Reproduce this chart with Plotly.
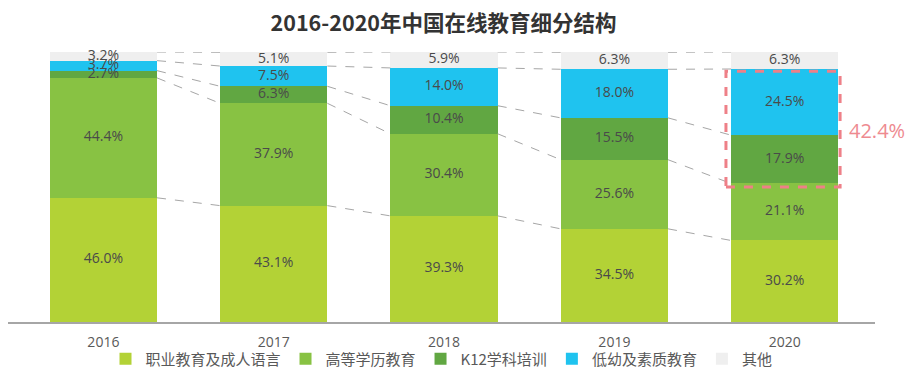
import plotly.graph_objects as go

years = ["2016", "2017", "2018", "2019", "2020"]
series_names = ["职业教育及成人语言", "高等学历教育", "K12学科培训", "低幼及素质教育", "其他"]
vocational = [46.0, 43.1, 39.3, 34.5, 30.2]
higher_edu = [44.4, 37.9, 30.4, 25.6, 21.1]
k12 = [2.7, 6.3, 10.4, 15.5, 17.9]
preschool = [3.7, 7.5, 14.0, 18.0, 24.5]
others = [3.2, 5.1, 5.9, 6.3, 6.3]
highlight_value = "42.4%"

series = [vocational, higher_edu, k12, preschool, others]
colors = ["#B3D236", "#88C243", "#61A742", "#1FC3EF", "#EFEFEF"]

bar_w = 0.63
xs = list(range(len(years)))
label_color = "#4A4A4A"

fig = go.Figure()

# stacked bars
for name, vals, col in zip(series_names, series, colors):
    fig.add_trace(go.Bar(
        x=xs, y=vals, name=name, width=bar_w,
        marker=dict(color=col, line=dict(width=0)),
        hoverinfo="skip",
    ))

# cumulative boundaries
cum = []
running = [0.0] * len(years)
for vals in series:
    running = [r + v for r, v in zip(running, vals)]
    cum.append(list(running))

# dashed connectors between bars at each boundary
for level in cum:
    for i in range(len(years) - 1):
        fig.add_trace(go.Scatter(
            x=[xs[i] + bar_w / 2, xs[i + 1] - bar_w / 2],
            y=[level[i], level[i + 1]],
            mode="lines",
            line=dict(color="#A6A6A6", width=1, dash="dash"),
            showlegend=False, hoverinfo="skip",
        ))

# segment value labels
lx, ly, lt = [], [], []
prev = [0.0] * len(years)
for vals, top in zip(series, cum):
    for i in range(len(years)):
        lx.append(xs[i])
        ly.append((prev[i] + top[i]) / 2)
        lt.append(f"{vals[i]:.1f}%")
    prev = top
fig.add_trace(go.Scatter(
    x=lx, y=ly, text=lt, mode="text",
    textfont=dict(size=14, color=label_color, family="Open Sans, Noto Sans CJK SC"),
    showlegend=False, hoverinfo="skip", cliponaxis=False,
))

# highlight rectangle around K12 + preschool in 2020
last = len(years) - 1
fig.add_shape(
    type="rect", xref="x", yref="y",
    x0=xs[last] - bar_w / 2 - 0.03, x1=xs[last] + bar_w / 2 + 0.01,
    y0=cum[1][last] - 1.3, y1=cum[3][last] - 0.8,
    line=dict(color="#EE8088", width=3, dash="dash"),
    fillcolor="rgba(0,0,0,0)",
)
fig.add_annotation(
    x=xs[last] + bar_w / 2 + 0.05, y=(cum[1][last] + cum[3][last]) / 2 - 1.5,
    xref="x", yref="y", xanchor="left", yanchor="middle", showarrow=False,
    text=highlight_value,
    font=dict(size=20, color="#EE8A90", family="Open Sans, Noto Sans CJK SC"),
)

# page body adds an 8px margin, so the figure is sized 8px smaller
fig.update_layout(
    width=915, height=379,
    barmode="stack",
    bargap=0,
    plot_bgcolor="white", paper_bgcolor="white",
    margin=dict(l=0, r=48, t=44, b=65),
    title=dict(
        text="<b>2016-2020年中国在线教育细分结构</b>",
        x=0.476, xanchor="center", y=0.958, yanchor="middle",
        font=dict(size=21.5, color="#333333", family="Noto Sans CJK SC"),
    ),
    showlegend=True,
    legend=dict(
        orientation="h", x=0.5, xanchor="center",
        yref="container", y=1 - 351 / 379, yanchor="middle",
        bgcolor="rgba(0,0,0,0)",
        font=dict(size=15, color="#595959", family="Noto Sans CJK SC"),
        itemwidth=30, traceorder="normal",
    ),
)
fig.update_xaxes(
    range=[-0.56, 4.53],
    tickmode="array", tickvals=xs, ticktext=years,
    showgrid=False, zeroline=False, automargin=False,
    showline=True, linecolor="#A6A6A6", linewidth=2,
    ticks="", ticklabelstandoff=6,
    tickfont=dict(size=14, color="#595959", family="Open Sans, Noto Sans CJK SC"),
)
fig.update_yaxes(
    range=[0, 100], visible=False, showgrid=False, zeroline=False,
)

fig.write_html("out.html")
